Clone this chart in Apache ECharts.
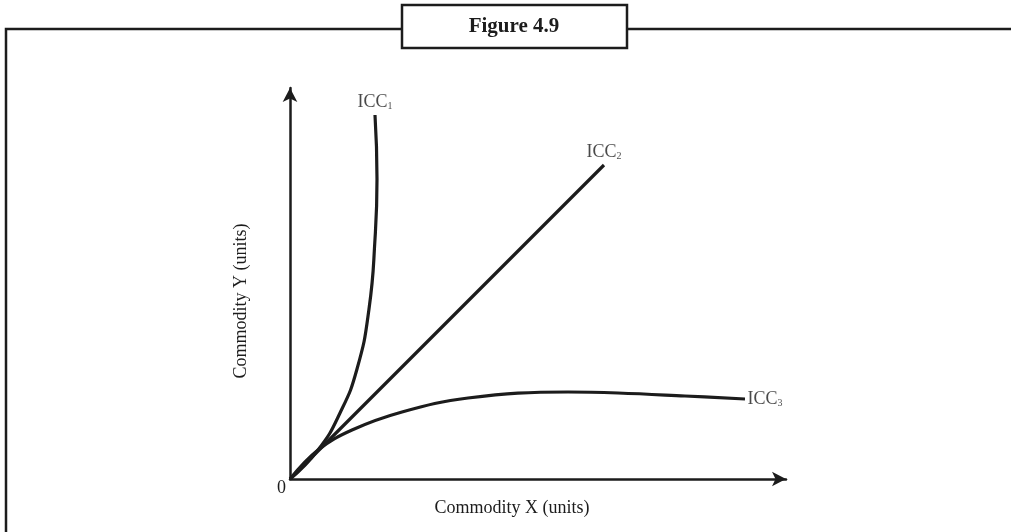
<!DOCTYPE html>
<html>
<head>
<meta charset="utf-8">
<script src="https://cdn.jsdelivr.net/npm/echarts@6/dist/echarts.min.js"></script>
<style>
html,body{margin:0;padding:0;background:#fff;}
#chart{width:1011px;height:532px;}
</style>
</head>
<body>
<div id="chart"></div>
<script>
// Axis ranges (arbitrary units)
const X_MAX = 496;
const Y_MAX = 391;

// Income consumption curves (x = commodity X, y = commodity Y)
const icc1 = [[0,0],[28,29],[50,66],[67,110],[79,170],[85,240],[87,300],[85,364]];
const icc2 = [[0,0],[314,314]];
const icc3 = [[0,0],[28,29],[62,49],[112,67],[178,81],[278,87],[328,86],[395,83],[455,80]];

const seriesNames = ['ICC1','ICC2','ICC3'];
const labelSubs = ['1','2','3'];
const titleText = 'Figure 4.9';
const xName = 'Commodity X (units)';
const yName = 'Commodity Y (units)';

const INK = '#1c1c1c';
const FONT = '"Liberation Serif", "DejaVu Serif", serif';

const chart = echarts.init(document.getElementById('chart'));

function lineSeries(name, data, smooth) {
  return {
    name: name, type: 'line', data: data, smooth: smooth,
    showSymbol: false, symbol: 'none',
    lineStyle: {color: INK, width: 3.2},
    z: 3, silent: true
  };
}

function endLabel(idx, data, position, distance) {
  return {
    type: 'scatter', symbolSize: 1, silent: true,
    itemStyle: {color: 'rgba(0,0,0,0)'},
    data: [data[data.length - 1]],
    label: {
      show: true, position: position, distance: distance,
      formatter: '{a|ICC}{b|' + labelSubs[idx] + '}',
      rich: {
        a: {fontFamily: FONT, fontSize: 18, color: INK},
        b: {fontFamily: FONT, fontSize: 10, color: INK, padding: [9, 0, 0, 0]}
      }
    },
    z: 4
  };
}

const option = {
  backgroundColor: '#ffffff',
  animation: false,
  grid: {left: 290, top: 88, width: 496, height: 391, containLabel: false},
  xAxis: {
    type: 'value', min: 0, max: X_MAX, interval: X_MAX,
    name: xName, nameLocation: 'middle', nameGap: 20,
    nameTextStyle: {fontFamily: FONT, fontSize: 18, color: INK, padding: [0, 52, 0, 0]},
    axisLine: {show: true, symbol: ['none', 'arrow'], symbolSize: [11, 14],
      lineStyle: {color: INK, width: 2.5}},
    axisTick: {show: false}, axisLabel: {show: false}, splitLine: {show: false}
  },
  yAxis: {
    type: 'value', min: 0, max: Y_MAX, interval: Y_MAX,
    name: yName, nameLocation: 'middle', nameGap: 40,
    nameTextStyle: {fontFamily: FONT, fontSize: 18, color: INK, padding: [0, 35, 0, 0]},
    axisLine: {show: true, symbol: ['none', 'arrow'], symbolSize: [11, 14],
      lineStyle: {color: INK, width: 2.5}},
    axisTick: {show: false}, splitLine: {show: false},
    axisLabel: {
      show: true, margin: 4, verticalAlign: 'top',
      fontFamily: FONT, fontSize: 18, color: INK,
      formatter: function (v) { return v === 0 ? '0' : ''; }
    }
  },
  series: [
    lineSeries(seriesNames[0], icc1, 0.5),
    lineSeries(seriesNames[1], icc2, false),
    lineSeries(seriesNames[2], icc3, 0.4),
    endLabel(0, icc1, 'top', 3),
    endLabel(1, icc2, 'top', 3),
    endLabel(2, icc3, 'right', 2)
  ],
  graphic: [
    {type: 'polyline', shape: {points: [[6, 532], [6, 29], [402, 29]]},
      style: {stroke: INK, lineWidth: 2.5, fill: null}, z: 1},
    {type: 'line', shape: {x1: 627, y1: 29, x2: 1011, y2: 29},
      style: {stroke: INK, lineWidth: 2.5}, z: 1},
    {type: 'rect', shape: {x: 402, y: 5, width: 225, height: 43},
      style: {stroke: INK, lineWidth: 2.5, fill: '#ffffff'}, z: 2},
    {type: 'text', x: 514, y: 27, z: 3,
      style: {text: titleText, fontFamily: FONT, fontWeight: 'bold', fontSize: 21,
        fill: INK, align: 'center', verticalAlign: 'middle'}}
  ]
};
chart.setOption(option);
</script>
</body>
</html>
